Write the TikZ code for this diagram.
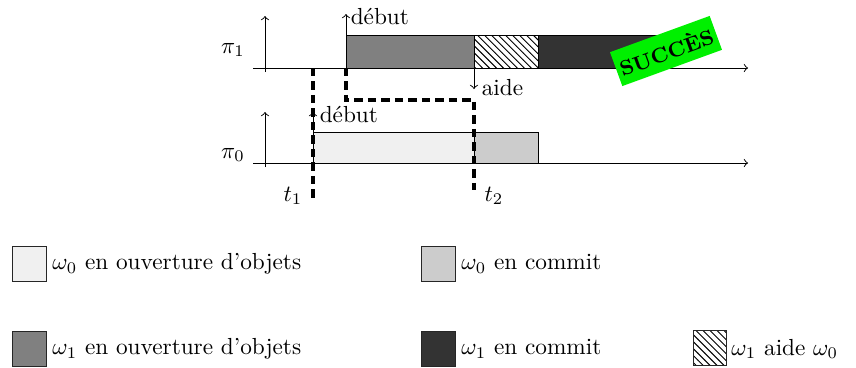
\documentclass[tikz,border=0pt]{standalone}
\usetikzlibrary{patterns}
\definecolor{succgreen}{RGB}{0,240,0}
\tikzset{
  axis/.style={thin,->},
  bar/.style={draw=black,thin},
  dline/.style={line width=1.3pt,dash pattern=on 3.6pt off 2.2pt},
  lbl/.style={inner sep=1pt,anchor=west},
  legbox/.style={draw=black!85,thin},
  legtxt/.style={inner sep=0pt,anchor=west},
  tick/.style={thin,->}
}
\begin{document}
\begin{tikzpicture}[x=0.43pt,y=-0.43pt]
\useasboundingbox (0,0) rectangle (856,367);
% coordinates
\coordinate (o1) at (253,68);
\coordinate (e1) at (748,68);
\coordinate (v1b) at (265,72);
\coordinate (v1t) at (265,16);
\coordinate (o0) at (253,163);
\coordinate (e0) at (748,163);
\coordinate (v0b) at (265,167);
\coordinate (v0t) at (265,112);
% top bars (pi1)
\draw[bar,fill=black!50] (346,35) rectangle (474,68);
\fill[white] (474,35) rectangle (538,68);
\draw[bar,pattern=north west lines] (474,35) rectangle (538,68);
\draw[bar,fill=black!80] (538,35) rectangle (660,68);
% bottom bars (pi0)
\draw[bar,fill=black!6] (313,132) rectangle (474,163);
\draw[bar,fill=black!20] (474,132) rectangle (538,163);
% axes
\draw[axis] (o1) -- (e1);
\draw[axis] (v1b) -- (v1t);
\draw[axis] (o0) -- (e0);
\draw[axis] (v0b) -- (v0t);
\node (p1) at (233,50) {$\pi_1$};
\node (p0) at (233,155) {$\pi_0$};
% event arrows
\coordinate (d1b) at (346,35);
\coordinate (d1t) at (346,14);
\draw[tick] (d1b) -- (d1t);
\node[lbl] (deb1) at (348,17) {début};
\coordinate (a1t) at (474,68);
\coordinate (a1b) at (474,89);
\draw[tick] (a1t) -- (a1b);
\node[lbl] (aide) at (479,88) {aide};
\coordinate (d0b) at (313,132);
\coordinate (d0t) at (313,112);
\draw[tick] (d0b) -- (d0t);
\node[lbl] (deb0) at (317,115) {début};
% dashed lines
\coordinate (t1t) at (313,68);
\coordinate (t1b) at (313,198);
\draw[dline] (t1t) -- (t1b);
\coordinate (k1) at (346,68);
\coordinate (k2) at (346,100);
\coordinate (k3) at (474,100);
\coordinate (k4) at (474,190);
\draw[dline] (k1) -- (k2) -- (k3) -- (k4);
\node (t1) at (293,196) {$t_1$};
\node (t2) at (494,196) {$t_2$};
% success stamp
\node[fill=succgreen,rotate=20,minimum width=45.6pt,minimum height=15.5pt,inner sep=0pt,font=\small\bfseries] (succ) at (666,51) {SUCCÈS};
% legend
\draw[legbox,fill=black!6] (12,246) rectangle (46,281);
\node[legtxt] (l1) at (52,264) {$\omega_0$ en ouverture d'objets};
\draw[legbox,fill=black!20] (421,246) rectangle (455,281);
\node[legtxt] (l2) at (461,264) {$\omega_0$ en commit};
\draw[legbox,fill=black!50] (12,331) rectangle (46,366);
\node[legtxt] (l3) at (52,349) {$\omega_1$ en ouverture d'objets};
\draw[legbox,fill=black!80] (421,331) rectangle (455,366);
\node[legtxt] (l4) at (461,349) {$\omega_1$ en commit};
\fill[white] (693,330) rectangle (726,365);
\draw[legbox,pattern=north west lines] (693,330) rectangle (726,365);
\node[legtxt] (l5) at (731,349) {$\omega_1$ aide $\omega_0$};
\end{tikzpicture}
\end{document}
